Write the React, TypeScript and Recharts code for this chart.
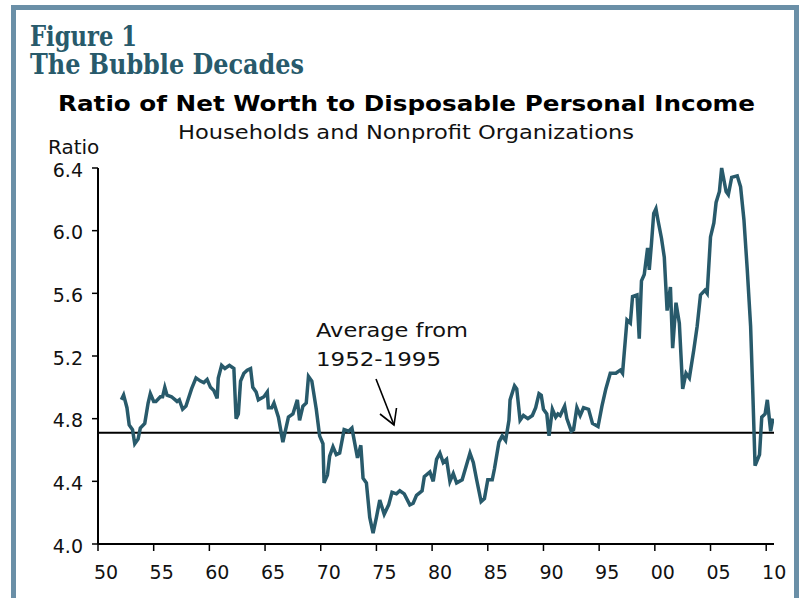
import React from "react";
import { LineChart, Line, XAxis, YAxis, ReferenceLine } from "recharts";

// quarter-ish readings of the household net worth / disposable income ratio
const years = [
  1952.1, 1952.3, 1952.6, 1952.8, 1953.1, 1953.3, 1953.6, 1953.8, 1954.2, 1954.5,
  1954.7, 1955.0, 1955.2, 1955.6, 1955.8, 1956.0, 1956.2, 1956.6, 1957.1, 1957.3,
  1957.6, 1957.9, 1958.4, 1958.8, 1959.2, 1959.5, 1959.8, 1960.1, 1960.4, 1960.7,
  1960.8, 1961.1, 1961.4, 1961.8, 1962.2, 1962.4, 1962.6, 1962.8, 1963.1, 1963.4,
  1963.7, 1963.9, 1964.2, 1964.4, 1964.9, 1965.2, 1965.3, 1965.6, 1965.8, 1966.2,
  1966.6, 1967.1, 1967.5, 1967.9, 1968.1, 1968.4, 1968.7, 1968.9, 1969.2, 1969.6,
  1969.9, 1970.2, 1970.3, 1970.6, 1970.8, 1971.1, 1971.4, 1971.7, 1972.1, 1972.5,
  1972.8, 1973.3, 1973.6, 1973.8, 1974.1, 1974.4, 1974.7, 1975.0, 1975.3, 1975.7,
  1976.1, 1976.4, 1976.8, 1977.1, 1977.5, 1978.0, 1978.3, 1978.6, 1979.1, 1979.3,
  1979.8, 1980.1, 1980.4, 1980.7, 1981.0, 1981.3, 1981.6, 1981.9, 1982.2, 1982.7,
  1983.4, 1983.7, 1984.0, 1984.4, 1984.7, 1985.0, 1985.4, 1985.6, 1986.0, 1986.3,
  1986.6, 1986.9, 1987.0, 1987.4, 1987.6, 1987.9, 1988.2, 1988.6, 1989.0, 1989.3,
  1989.6, 1989.8, 1990.0, 1990.3, 1990.5, 1990.8, 1991.1, 1991.3, 1991.5, 1991.9,
  1992.1, 1992.5, 1992.7, 1993.0, 1993.3, 1993.6, 1994.05, 1994.4, 1994.9, 1995.25,
  1995.6, 1996.0, 1996.5, 1996.9, 1997.1, 1997.5, 1997.8, 1998.0, 1998.4, 1998.6,
  1998.8, 1999.05, 1999.35, 1999.5, 1999.7, 1999.9, 2000.1, 2000.3, 2000.6, 2000.85,
  2001.1, 2001.4, 2001.6, 2001.9, 2002.2, 2002.5, 2002.8, 2003.1, 2003.5, 2003.8,
  2004.1, 2004.5, 2004.7, 2005.0, 2005.3, 2005.5, 2005.8, 2006.0, 2006.4, 2006.6,
  2006.9, 2007.4, 2007.7, 2008.0, 2008.3, 2008.6, 2008.8, 2009.0, 2009.4, 2009.6,
  2009.9, 2010.1, 2010.4, 2010.6,
];

const ratio = [
  4.92, 4.95, 4.87, 4.76, 4.73, 4.64, 4.67, 4.74, 4.77, 4.90,
  4.96, 4.91, 4.91, 4.94, 4.94, 5.00, 4.95, 4.94, 4.91, 4.92,
  4.86, 4.88, 4.99, 5.06, 5.04, 5.03, 5.05, 5.00, 4.98, 4.93,
  5.06, 5.14, 5.12, 5.14, 5.12, 4.80, 4.83, 5.04, 5.09, 5.11,
  5.12, 5.00, 4.97, 4.92, 4.94, 4.97, 4.87, 4.87, 4.90, 4.81,
  4.65, 4.81, 4.83, 4.92, 4.79, 4.88, 4.90, 5.07, 5.04, 4.86,
  4.69, 4.64, 4.39, 4.44, 4.56, 4.62, 4.57, 4.58, 4.73, 4.72,
  4.74, 4.55, 4.63, 4.42, 4.39, 4.17, 4.07, 4.17, 4.28, 4.19,
  4.25, 4.33, 4.32, 4.34, 4.32, 4.25, 4.26, 4.31, 4.34, 4.43,
  4.46, 4.40, 4.54, 4.58, 4.52, 4.54, 4.40, 4.45, 4.39, 4.41,
  4.58, 4.52, 4.41, 4.27, 4.29, 4.41, 4.41, 4.48, 4.65, 4.69,
  4.66, 4.79, 4.92, 5.01, 4.99, 4.79, 4.82, 4.80, 4.82, 4.87,
  4.96, 4.95, 4.86, 4.83, 4.69, 4.86, 4.81, 4.83, 4.82, 4.88,
  4.80, 4.72, 4.73, 4.87, 4.82, 4.87, 4.86, 4.77, 4.75, 4.88,
  4.99, 5.09, 5.09, 5.11, 5.09, 5.43, 5.41, 5.58, 5.59, 5.31,
  5.68, 5.72, 5.89, 5.75, 5.92, 6.11, 6.14, 6.06, 5.95, 5.83,
  5.49, 5.64, 5.25, 5.54, 5.41, 4.99, 5.09, 5.06, 5.24, 5.39,
  5.59, 5.62, 5.60, 5.96, 6.05, 6.18, 6.25, 6.40, 6.25, 6.23,
  6.34, 6.35, 6.28, 6.07, 5.75, 5.39, 4.96, 4.50, 4.57, 4.81,
  4.83, 4.92, 4.72, 4.80,
];

const xTicks = [1950, 1955, 1960, 1965, 1970, 1975, 1980, 1985, 1990, 1995, 2000, 2005, 2010];
const yTicks = [4.0, 4.4, 4.8, 5.2, 5.6, 6.0, 6.4];
const average = 4.71; // 1952-1995 mean

const data = years.map((year, i) => ({ year, ratio: ratio[i] }));

const FRAME = "#6a8fa7";
const TEAL = "#285a6b";
const SANS = "'DejaVu Sans', Verdana, sans-serif";

const YearTick = (props: any) => {
  const { x, y, payload } = props;
  const label = String(payload.value % 100).padStart(2, "0");
  return (
    <text x={x + 8} y={y} dy={24} textAnchor="middle" fontSize={19} fontFamily={SANS} fill="#111">
      {label}
    </text>
  );
};

const App: React.FC = () => {
  return (
    <div style={{ position: "absolute", left: 0, top: 0, width: 799, height: 598, background: "#fff" }}>
      <div
        style={{
          position: "absolute",
          left: 11,
          top: 5,
          width: 778,
          height: 593,
          borderTop: `5px solid ${FRAME}`,
          borderLeft: `5px solid ${FRAME}`,
          borderRight: `5px solid ${FRAME}`,
        }}
      />
      <div style={{ position: "absolute", left: 0, top: 0 }}>
        <LineChart width={799} height={598} data={data} margin={{ top: 168, right: 25, bottom: 14, left: 38 }}>
          <XAxis
            dataKey="year"
            type="number"
            domain={[1950, 2010.7]}
            allowDataOverflow
            ticks={xTicks}
            interval={0}
            tick={<YearTick />}
            tickSize={7}
            tickMargin={4}
            height={40}
            axisLine={{ stroke: "#000", strokeWidth: 2 }}
            tickLine={{ stroke: "#000", strokeWidth: 1.5 }}
          />
          <YAxis
            type="number"
            domain={[4.0, 6.4]}
            ticks={yTicks}
            interval={0}
            width={60}
            tickSize={6}
            tickMargin={9}
            tickFormatter={(v: number) => v.toFixed(1)}
            tick={{ fontSize: 19, fontFamily: SANS, fill: "#111", dy: 2 }}
            axisLine={{ stroke: "#000", strokeWidth: 2 }}
            tickLine={{ stroke: "#000", strokeWidth: 1.5 }}
          />
          <ReferenceLine y={average} stroke="#000" strokeWidth={2} />
          <Line
            type="linear"
            dataKey="ratio"
            stroke={TEAL}
            strokeWidth={3.5}
            dot={false}
            isAnimationActive={false}
          />
        </LineChart>
      </div>
      <svg width={799} height={598} style={{ position: "absolute", left: 0, top: 0, pointerEvents: "none" }}>
        <text x={30} y={46} fontSize={27} fontWeight="bold" fontFamily="'DejaVu Serif', serif" fill={TEAL} textLength={107} lengthAdjust="spacingAndGlyphs">
          Figure 1
        </text>
        <text x={30} y={74} fontSize={27} fontWeight="bold" fontFamily="'DejaVu Serif', serif" fill={TEAL} textLength={274} lengthAdjust="spacingAndGlyphs">
          The Bubble Decades
        </text>
        <text x={58} y={111} fontSize={21} fontWeight="bold" fontFamily={SANS} fill="#000" textLength={697} lengthAdjust="spacingAndGlyphs">
          Ratio of Net Worth to Disposable Personal Income
        </text>
        <text x={178} y={139} fontSize={19} fontFamily={SANS} fill="#111" textLength={456} lengthAdjust="spacingAndGlyphs">
          Households and Nonprofit Organizations
        </text>
        <text x={48} y={154} fontSize={20} fontFamily={SANS} fill="#111">
          Ratio
        </text>
        <text x={316} y={337} fontSize={20} fontFamily={SANS} fill="#111" textLength={152} lengthAdjust="spacingAndGlyphs">
          Average from
        </text>
        <text x={316} y={366} fontSize={20} fontFamily={SANS} fill="#111" textLength={125} lengthAdjust="spacingAndGlyphs">
          1952-1995
        </text>
        <g stroke="#000" strokeWidth={1.6} fill="none">
          <line x1={376} y1={379} x2={394} y2={425} />
          <polyline points="380,414 394,425 396.5,408" />
        </g>
      </svg>
    </div>
  );
};

export default App;
